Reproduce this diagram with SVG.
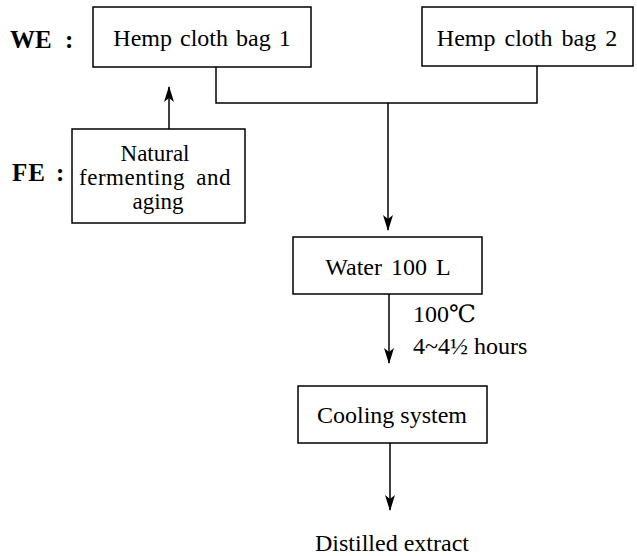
<svg xmlns="http://www.w3.org/2000/svg" width="637" height="556" viewBox="0 0 637 556">
<style>
  .box { fill: #fff; stroke: #000; stroke-width: 1.5; }
  .t { font-family: "Liberation Serif", "DejaVu Serif", "Noto Sans CJK KR", serif; font-size: 24px; fill: #000; }
  .s { font-size: 23px; }
  .c { text-anchor: middle; }
  .b { font-weight: bold; font-size: 25px; }
  .ln { fill: none; stroke: #000; stroke-width: 1.5; }
</style>
<defs>
  <marker id="ah" viewBox="0 0 16 10" refX="15" refY="5" markerWidth="16" markerHeight="10" markerUnits="userSpaceOnUse" orient="auto">
    <path d="M0,0 L16,5 L0,10 L4,5 z" fill="#000"/>
  </marker>
</defs>

<g id="labels">
  <text class="t b" x="10" y="48">WE</text>
  <text class="t b" x="65" y="48">:</text>
  <text class="t b" x="12" y="181" letter-spacing="1">FE</text>
  <text class="t b" x="56" y="181">:</text>
</g>

<g id="bag1">
  <rect class="box" x="93" y="7" width="218" height="60"/>
  <text class="t c" x="202" y="46" word-spacing="2">Hemp cloth bag 1</text>
</g>

<g id="bag2">
  <rect class="box" x="422" y="7" width="211" height="59"/>
  <text class="t c" x="527" y="46" word-spacing="3">Hemp cloth bag 2</text>
</g>

<g id="fe">
  <rect class="box" x="72" y="129" width="173" height="94"/>
  <text class="t s c" x="155" y="161">Natural</text>
  <text class="t s c" x="155" y="185" letter-spacing="0.5" word-spacing="5">fermenting and</text>
  <text class="t s c" x="158" y="209">aging</text>
</g>

<g id="water">
  <rect class="box" x="293" y="237" width="189" height="57"/>
  <text class="t c" x="388" y="275" word-spacing="3">Water 100 L</text>
</g>

<g id="cooling">
  <rect class="box" x="298" y="386" width="189" height="57"/>
  <text class="t c" x="392" y="423">Cooling system</text>
</g>

<g id="product">
  <text class="t c" x="392" y="551">Distilled extract</text>
</g>

<g id="connectors">
  <polyline class="ln" points="216,67 216,103 537,103 537,66"/>
  <line class="ln" x1="388" y1="103" x2="388" y2="230" marker-end="url(#ah)"/>
  <line class="ln" x1="169" y1="129" x2="169" y2="87" marker-end="url(#ah)"/>
  <line class="ln" x1="389" y1="294" x2="389" y2="363" marker-end="url(#ah)"/>
  <line class="ln" x1="390" y1="443" x2="390" y2="510" marker-end="url(#ah)"/>
  <text class="t" x="413" y="322">100℃</text>
  <text class="t" x="413" y="354">4~4½ hours</text>
</g>
</svg>
